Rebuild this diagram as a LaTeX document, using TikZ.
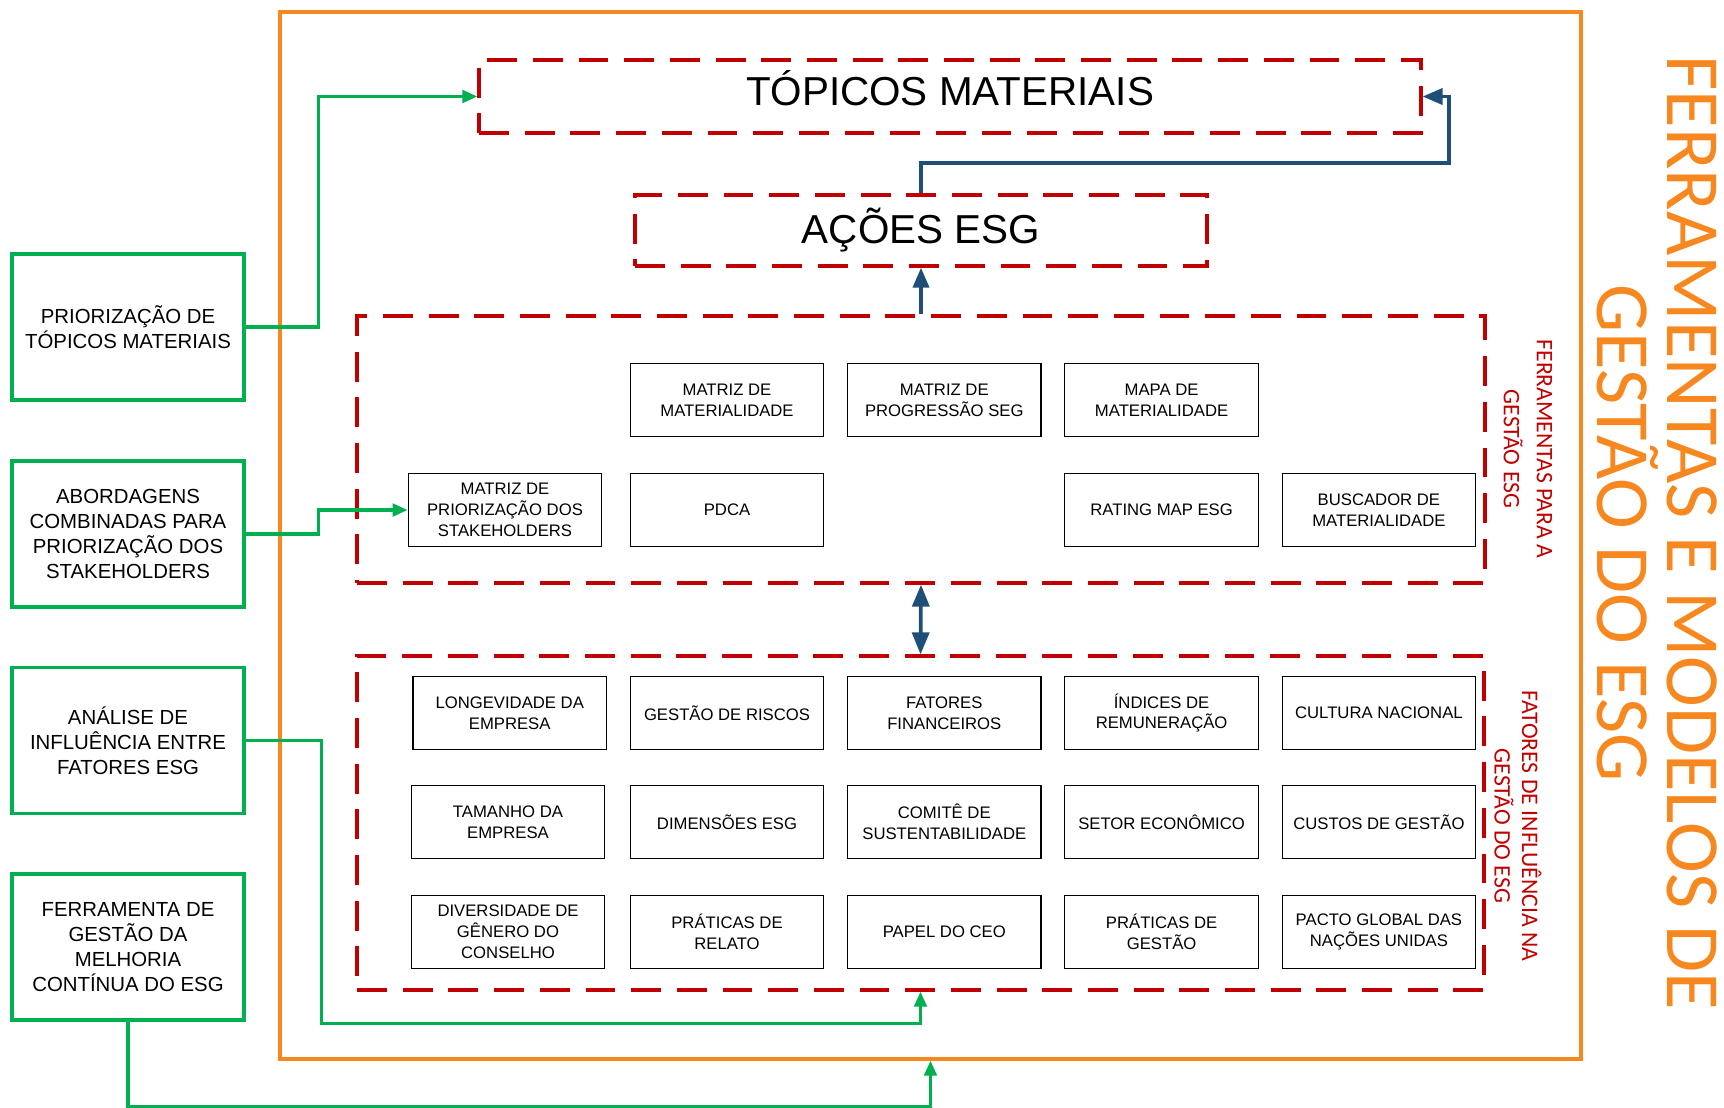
\documentclass[tikz,border=0pt]{standalone}
\usepackage{fontspec}
\setmainfont{Liberation Sans}
\newfontfamily\calfont{Carlito}
\usetikzlibrary{arrows.meta}
\definecolor{esgRed}{HTML}{C00000}
\definecolor{esgGreen}{HTML}{00B050}
\definecolor{esgBlue}{HTML}{1F4E79}
\definecolor{esgOrange}{HTML}{F7881F}

\begin{document}
\begin{tikzpicture}[x=0.02cm, y=-0.02cm,
  frame/.style={draw=esgOrange, line width=2pt, minimum width=26.02cm, minimum height=20.94cm, inner sep=0pt},
  region/.style={draw=esgRed, dash pattern=on 17pt off 9pt, line width=1.9pt, inner sep=0pt},
  bigtxt/.style={font=\fontsize{23}{27}\selectfont},
  tbox/.style={draw=black, line width=0.7pt, minimum width=3.87cm, minimum height=1.45cm, inner sep=1pt, align=center, font=\fontsize{9.5}{11.9}\selectfont},
  gbox/.style={draw=esgGreen, line width=2pt, minimum width=4.64cm, minimum height=2.92cm, inner sep=1pt, align=center, font=\fontsize{11.6}{14.2}\selectfont},
  gline/.style={draw=esgGreen, line width=1.9pt, -{Triangle[length=0.3cm, width=0.25cm]}},
  bline/.style={draw=esgBlue, line width=2.1pt, -{Triangle[length=0.4cm, width=0.32cm]}},
  sidelab/.style={text=esgRed, rotate=-90, align=center, font=\calfont\fontsize{13.5}{18.7}\selectfont},
]
\useasboundingbox (0,0) rectangle (1724,1107);
\def\ca{509.7}\def\cx{217.3}
% ---- frame and dashed regions ----
\node[frame] (frame) at (930.5,535.5){};
\node[region, bigtxt, minimum width=18.84cm, minimum height=1.46cm, text height=12pt, text depth=2.3pt] (topicos) at (950,96.5){TÓPICOS MATERIAIS};
\node[region, bigtxt, minimum width=11.44cm, minimum height=1.42cm] (acoes) at (921,230.5){AÇÕES ESG};
\node[region, minimum width=22.56cm, minimum height=5.34cm] (ferr) at (921,449.5){};
\node[region, minimum width=22.54cm, minimum height=6.68cm] (fat) at (920.5,823){};
% ---- tools ----
\node[tbox] (mmat) at ({\ca+1*\cx},400){MATRIZ DE\\MATERIALIDADE};
\node[tbox] (mprog) at ({\ca+2*\cx},400){MATRIZ DE\\PROGRESSÃO SEG};
\node[tbox] (mapa) at ({\ca+3*\cx},400){MAPA DE\\MATERIALIDADE};
\node[tbox] (mpri) at (505,510){MATRIZ DE\\PRIORIZAÇÃO DOS\\STAKEHOLDERS};
\node[tbox] (pdca) at ({\ca+1*\cx},510){PDCA};
\node[tbox] (rating) at ({\ca+3*\cx},510){RATING MAP ESG};
\node[tbox] (busc) at ({\ca+4*\cx},510){BUSCADOR DE\\MATERIALIDADE};
% ---- influence factors ----
\node[tbox] (longev) at (\ca,713){LONGEVIDADE DA\\EMPRESA};
\node[tbox] (riscos) at ({\ca+1*\cx},713){GESTÃO DE RISCOS};
\node[tbox] (financ) at ({\ca+2*\cx},713){FATORES\\FINANCEIROS};
\node[tbox] (remun) at ({\ca+3*\cx},713){ÍNDICES DE\\REMUNERAÇÃO};
\node[tbox] (cultura) at ({\ca+4*\cx},713){CULTURA NACIONAL};
\node[tbox] (tamanho) at (508,822){TAMANHO DA\\EMPRESA};
\node[tbox] (dimens) at ({\ca+1*\cx},822){DIMENSÕES ESG};
\node[tbox] (comite) at ({\ca+2*\cx},822){COMITÊ DE\\SUSTENTABILIDADE};
\node[tbox] (setor) at ({\ca+3*\cx},822){SETOR ECONÔMICO};
\node[tbox] (custos) at ({\ca+4*\cx},822){CUSTOS DE GESTÃO};
\node[tbox] (divers) at (508,932){DIVERSIDADE DE\\GÊNERO DO\\CONSELHO};
\node[tbox] (relato) at ({\ca+1*\cx},932){PRÁTICAS DE\\RELATO};
\node[tbox] (ceo) at ({\ca+2*\cx},932){PAPEL DO CEO};
\node[tbox] (pratges) at ({\ca+3*\cx},932){PRÁTICAS DE\\GESTÃO};
\node[tbox] (pacto) at ({\ca+4*\cx},932){PACTO GLOBAL DAS\\NAÇÕES UNIDAS};
% ---- left boxes ----
\node[gbox] (prio) at (128,327){PRIORIZAÇÃO DE\\TÓPICOS MATERIAIS};
\node[gbox] (abord) at (128,534){ABORDAGENS\\COMBINADAS PARA\\PRIORIZAÇÃO DOS\\STAKEHOLDERS};
\node[gbox] (anal) at (128,740.5){ANÁLISE DE\\INFLUÊNCIA ENTRE\\FATORES ESG};
\node[gbox] (melh) at (128,947){FERRAMENTA DE\\GESTÃO DA\\MELHORIA\\CONTÍNUA DO ESG};
% ---- side labels ----
\node[sidelab] (labferr) at (1528,449){FERRAMENTAS PARA A\\GESTÃO ESG};
\node[sidelab, font=\calfont\fontsize{13.5}{15.6}\selectfont] (labfat) at (1518,826){FATORES DE INFLUÊNCIA NA\\GESTÃO DO ESG};
\node[text=esgOrange, rotate=-90, align=center, font=\calfont\fontsize{43.6}{40.3}\selectfont] (title) at (1657,533){FERRAMENTAS E MODELOS DE\\GESTÃO DO ESG};
% ---- connectors ----
\draw[gline] (prio.east) -- ++(73,0) |- (topicos.west);
\draw[gline] (abord.east) -- ++(73,0) |- (mpri.west);
\draw[gline] (anal.east) -- ++(76,0) -- ++(0,283) -| (fat.south);
\draw[gline] (melh.south) -- ++(0,85) -| (frame.south);
\coordinate (loop) at (1449,163);
\draw[bline] (acoes.north) |- (loop) |- (topicos.east);
\draw[bline] (ferr.north) -- (acoes.south);
\draw[bline, {Triangle[length=0.44cm, width=0.34cm]}-{Triangle[length=0.44cm, width=0.34cm]}] (ferr.south) -- (fat.north);
\end{tikzpicture}
\end{document}
